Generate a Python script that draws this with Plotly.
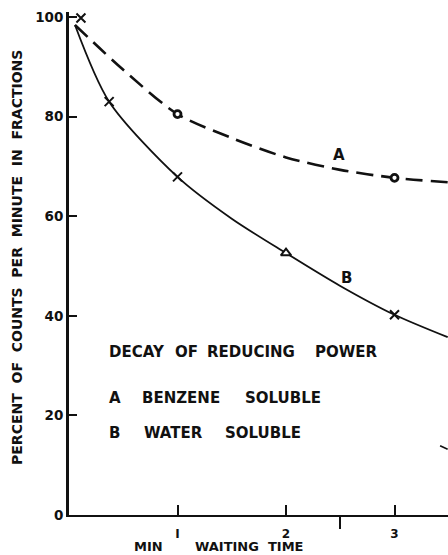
import plotly.graph_objects as go

# Curve A (benzene soluble): waiting time (min) vs percent of counts per minute
a_time = [0.055, 0.5, 1.0, 1.5, 2.0, 2.5, 3.0, 3.49]
a_pct = [98.4, 89.4, 80.5, 75.7, 71.8, 69.3, 67.7, 66.8]
a_point_time = [1.0, 3.0]
a_point_pct = [80.5, 67.7]

# Curve B (water soluble)
b_time = [0.055, 0.37, 1.0, 1.5, 2.0, 2.5, 3.0, 3.49]
b_pct = [98.4, 83.0, 67.9, 59.5, 52.6, 46.0, 40.2, 35.7]
b_cross_time = [0.11, 0.37, 1.0, 3.0]
b_cross_pct = [99.8, 83.0, 67.9, 40.2]
b_triangle_time = [2.0]
b_triangle_pct = [52.6]

# Short piece of a third curve at the right edge
c_time = [3.42, 3.49]
c_pct = [13.9, 13.2]

x_ticks = [1, 2, 3]
x_tick_text = ["I", "2", "3"]
x_minor_ticks = [2.5]
y_ticks = [0, 20, 40, 60, 80, 100]
y_tick_text = ["0", "20", "40", "60", "80", "100"]

# Key text, one word per entry: (word, left edge in minutes, height in percent)
key_words = [
    ("DECAY", 0.348, 32.8), ("OF", 0.959, 32.8), ("REDUCING", 1.253, 32.8), ("POWER", 2.249, 32.8),
    ("A", 0.350, 23.5), ("BENZENE", 0.654, 23.5), ("SOLUBLE", 1.604, 23.5),
    ("B", 0.350, 16.4), ("WATER", 0.673, 16.4), ("SOLUBLE", 1.419, 16.4),
]

INK = "#111111"
FONT = "DejaVu Sans"
X_MAX = 3.493
Y_MAX = 101

fig = go.Figure()

fig.add_trace(go.Scatter(
    x=a_time, y=a_pct, mode="lines",
    line=dict(color=INK, width=2.6, dash="17px,8px", shape="spline", smoothing=0.8),
    hoverinfo="skip", showlegend=False))
fig.add_trace(go.Scatter(
    x=b_time, y=b_pct, mode="lines",
    line=dict(color=INK, width=1.8, shape="spline", smoothing=0.8),
    hoverinfo="skip", showlegend=False))
fig.add_trace(go.Scatter(
    x=c_time, y=c_pct, mode="lines", line=dict(color=INK, width=1.6),
    hoverinfo="skip", showlegend=False))

# Point markers
fig.add_trace(go.Scatter(
    x=a_point_time, y=a_point_pct, mode="markers",
    marker=dict(symbol="circle", size=7, color="white", line=dict(width=2.8, color=INK)),
    cliponaxis=False, showlegend=False))
fig.add_trace(go.Scatter(
    x=b_cross_time, y=b_cross_pct, mode="markers",
    marker=dict(symbol="x-thin-open", size=9, color=INK, line=dict(width=2, color=INK)),
    cliponaxis=False, showlegend=False))
fig.add_trace(go.Scatter(
    x=b_triangle_time, y=b_triangle_pct, mode="markers",
    marker=dict(symbol="triangle-up", size=9, color="white", line=dict(width=2, color=INK)),
    cliponaxis=False, showlegend=False))

word_font = dict(family=FONT, size=15, color=INK, weight="bold")

annotations = [
    dict(x=2.488, y=72.3, text="A", showarrow=False, font=word_font),
    dict(x=2.553, y=47.6, text="B", showarrow=False, font=word_font),
]
for word, t, p in key_words:
    annotations.append(dict(x=t, y=p, text=word, showarrow=False, xanchor="left", font=word_font))

# Axis titles
annotations.append(dict(
    xref="paper", yref="paper", x=0, xshift=-52, y=0.511, xanchor="center", yanchor="middle",
    textangle=-90, text="PERCENT  OF  COUNTS  PER  MINUTE  IN  FRACTIONS", showarrow=False,
    font=dict(family=FONT, size=14, color=INK, weight="bold")))
annotations.append(dict(
    x=0.737, yref="paper", y=-0.0636, yanchor="middle", text="MIN", showarrow=False,
    font=dict(family=FONT, size=13, color=INK, weight="bold")))
annotations.append(dict(
    x=1.659, yref="paper", y=-0.0636, yanchor="middle", text="WAITING  TIME", showarrow=False,
    font=dict(family=FONT, size=13, color=INK, weight="bold")))

fig.update_layout(
    width=448, height=555,
    margin=dict(l=69, r=0, t=12, b=40),
    paper_bgcolor="white", plot_bgcolor="white",
    annotations=annotations,
    xaxis=dict(range=[0, X_MAX], showgrid=False, zeroline=False, showline=True, linecolor=INK, linewidth=2.2,
               tickmode="array", tickvals=x_ticks, ticktext=x_tick_text, ticks="inside", ticklen=10,
               tickwidth=2, tickcolor=INK, ticklabelstandoff=6,
               tickfont=dict(family=FONT, size=12, color=INK, weight="bold"),
               minor=dict(tickmode="array", tickvals=x_minor_ticks, ticks="outside", ticklen=12,
                          tickwidth=2, tickcolor=INK)),
    yaxis=dict(range=[0, Y_MAX], showgrid=False, zeroline=False, showline=True, linecolor=INK, linewidth=2.8,
               tickmode="array", tickvals=y_ticks, ticktext=y_tick_text, ticks="inside", ticklen=8,
               tickwidth=2, tickcolor=INK,
               tickfont=dict(family=FONT, size=13.5, color=INK, weight="bold")),
)

fig.write_html("out.html")
